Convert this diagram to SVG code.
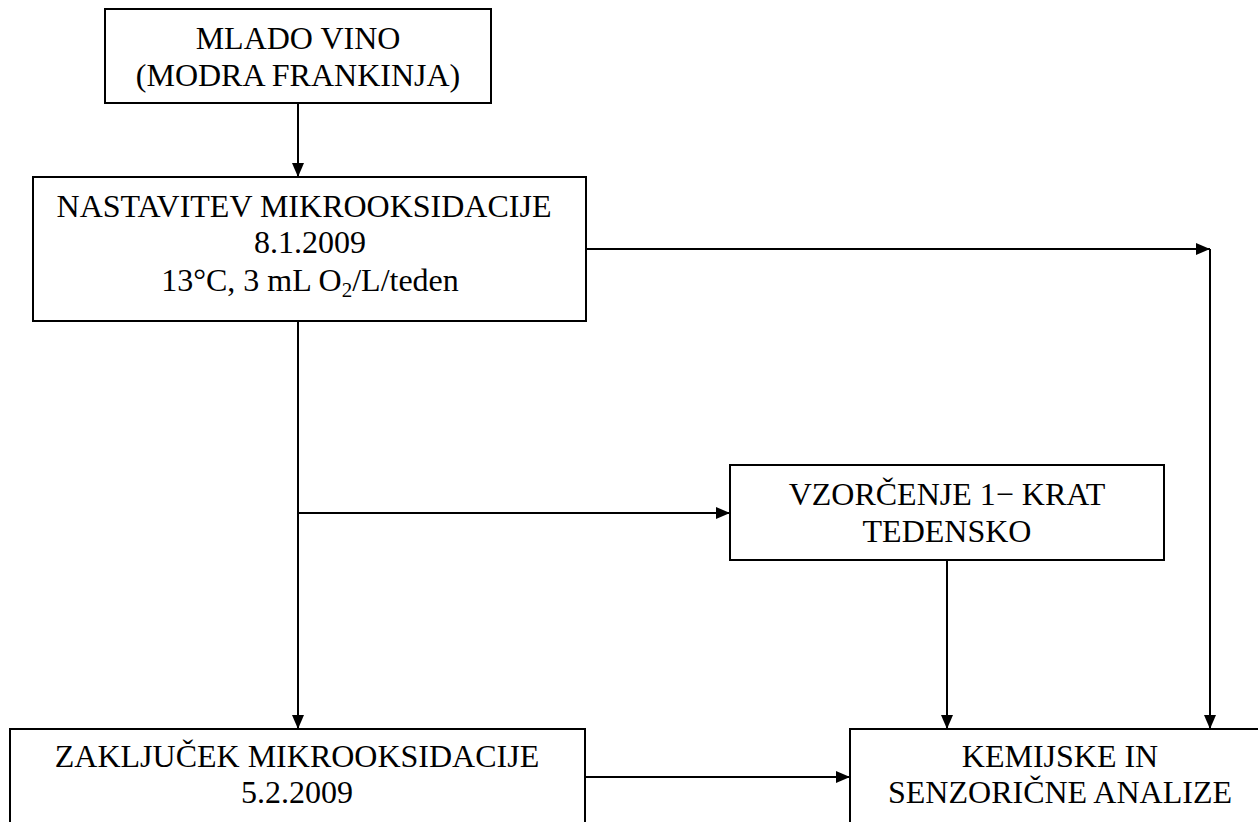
<svg xmlns="http://www.w3.org/2000/svg" width="1258" height="822" viewBox="0 0 1258 822">
<style>
.box{fill:#fff;stroke:#000;stroke-width:2}
.t{font-family:"Liberation Serif","Times New Roman",serif;font-size:32px;fill:#000;text-anchor:middle}
.c{fill:none;stroke:#000;stroke-width:2}
</style>
<defs>
<marker id="ah" viewBox="0 0 14 12" refX="14" refY="6" markerWidth="14" markerHeight="12" markerUnits="userSpaceOnUse" orient="auto">
<path d="M0,0 L14,6 L0,12 z" fill="#000"/>
</marker>
</defs>
<rect width="1258" height="822" fill="#fff"/>
<g id="connectors">
<line class="c" x1="298" y1="103" x2="298" y2="177" marker-end="url(#ah)"/>
<line class="c" x1="586" y1="249" x2="1210" y2="249" marker-end="url(#ah)"/>
<line class="c" x1="1210" y1="249" x2="1210" y2="729" marker-end="url(#ah)"/>
<line class="c" x1="298" y1="321" x2="298" y2="729" marker-end="url(#ah)"/>
<line class="c" x1="298" y1="513" x2="730" y2="513" marker-end="url(#ah)"/>
<line class="c" x1="947" y1="560" x2="947" y2="729" marker-end="url(#ah)"/>
<line class="c" x1="585" y1="777" x2="850" y2="777" marker-end="url(#ah)"/>
</g>
<g id="mlado-vino">
<rect class="box" x="105" y="9" width="386" height="94"/>
<text class="t" x="298" y="49">MLADO VINO</text>
<text class="t" x="298" y="86">(MODRA FRANKINJA)</text>
</g>
<g id="nastavitev">
<rect class="box" x="33" y="177" width="553" height="144"/>
<text class="t" x="304" y="217">NASTAVITEV MIKROOKSIDACIJE</text>
<text class="t" x="310" y="253">8.1.2009</text>
<text class="t" x="310" y="291">13°C, 3 mL O<tspan font-size="21" dy="6">2</tspan><tspan dy="-6">/L/teden</tspan></text>
</g>
<g id="vzorcenje">
<rect class="box" x="730" y="465" width="434" height="95"/>
<text class="t" x="947" y="505">VZORČENJE 1− KRAT</text>
<text class="t" x="947" y="542">TEDENSKO</text>
</g>
<g id="zakljucek">
<rect class="box" x="10" y="729" width="575" height="110"/>
<text class="t" x="297" y="767">ZAKLJUČEK MIKROOKSIDACIJE</text>
<text class="t" x="297" y="803">5.2.2009</text>
</g>
<g id="kemijske">
<rect class="box" x="850" y="729" width="420" height="110"/>
<text class="t" x="1060" y="767">KEMIJSKE IN</text>
<text class="t" x="1060" y="803">SENZORIČNE ANALIZE</text>
</g>
</svg>
